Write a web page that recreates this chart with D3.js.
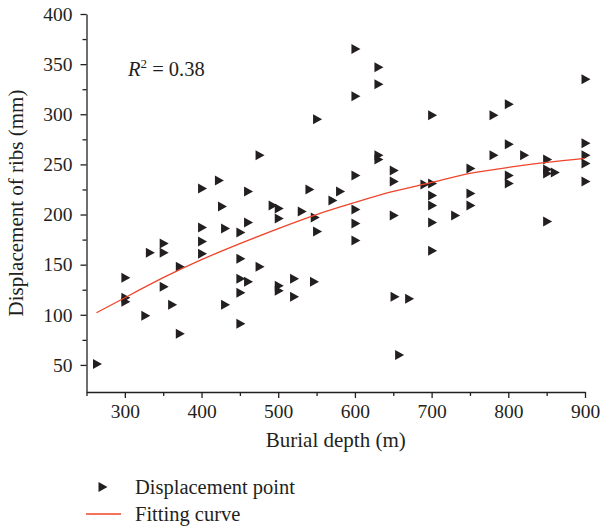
<!DOCTYPE html>
<html>
<head>
<meta charset="utf-8">
<script src="https://cdn.jsdelivr.net/npm/d3@7/dist/d3.min.js"></script>
<style>
  html, body { margin: 0; padding: 0; background: #fff; }
  svg text { font-family: "Liberation Serif", "Times New Roman", serif; fill: #231f20; }
</style>
</head>
<body>
<svg id="chart" width="601" height="527"></svg>
<script>
// Measured burial depth (m) and rib displacement (mm) for each monitoring point
const depths = [
  263, 300, 300, 300, 326, 332, 350, 350, 350, 361, 371, 371,
  400, 422, 400, 400, 400, 426, 430, 430,
  450, 450, 450, 450, 450, 460, 460, 460, 475, 475,
  492, 500, 500, 500, 500, 520, 520, 530, 540, 547, 550, 546, 550, 570, 580,
  600, 600, 600, 600, 600, 600, 630, 630, 630, 630,
  650, 650, 650, 651, 657, 670, 690,
  700, 700, 700, 700, 700, 700, 730, 750, 750, 750,
  780, 780, 800, 800, 800, 800, 820,
  850, 850, 850, 860, 850, 900, 900, 900, 900, 900
];
const displacements = [
  51, 137, 117, 113, 99, 162, 171, 162, 128, 110, 148, 81,
  226, 234, 187, 173, 161, 208, 186, 110,
  182, 156, 136, 122, 91, 223, 192, 133, 259, 148,
  209, 206, 196, 129, 124, 136, 118, 203, 225, 197, 183, 133, 295, 214, 223,
  365, 318, 239, 205, 191, 174, 347, 330, 259, 255,
  244, 233, 199, 118, 60, 116, 230,
  231, 219, 209, 192, 164, 299, 199, 246, 221, 209,
  299, 259, 310, 270, 239, 231, 259,
  255, 245, 241, 242, 193, 335, 271, 259, 251, 233
];

// Fitted trend (second-order), read at regular depths
const fitDepths = [263, 300, 350, 400, 450, 500, 550, 600, 650, 700, 750, 800, 850, 900];
const fitValues = [102, 117, 137, 155, 171, 186, 200, 212, 223, 232, 241, 247, 252, 256];

const xTicks = [300, 400, 500, 600, 700, 800, 900];
const yTicks = [50, 100, 150, 200, 250, 300, 350, 400];
const rSquared = "0.38";

const svg = d3.select("#chart");
const ink = "#231f20";
const red = "#f0452a";

const x = d3.scaleLinear().domain([250, 900]).range([86.5, 585]);
const y = d3.scaleLinear().domain([23, 400]).range([392, 14]);

// Axes: major ticks labelled, unlabelled minor ticks between them
const xMinor = d3.range(250, 901, 50).filter(v => !xTicks.includes(v));
const yMinor = d3.range(75, 400, 50);

const gx = svg.append("g").attr("transform", `translate(0,${y(23)})`);
gx.call(d3.axisBottom(x).tickValues(xTicks).tickSize(6).tickSizeOuter(0).tickPadding(6));
gx.append("g").call(d3.axisBottom(x).tickValues(xMinor).tickSize(4).tickFormat(""))
  .select(".domain").remove();

const gy = svg.append("g").attr("transform", `translate(${x(250)},0)`);
gy.call(d3.axisLeft(y).tickValues(yTicks).tickSize(6).tickSizeOuter(0).tickPadding(8));
gy.append("g").call(d3.axisLeft(y).tickValues(yMinor).tickSize(4).tickFormat(""))
  .select(".domain").remove();

svg.selectAll(".domain, .tick line").attr("stroke", ink).attr("stroke-width", 1.3);
svg.selectAll(".tick text").attr("font-size", 19.5).attr("font-family", null).attr("fill", ink);

// Axis titles
svg.append("text")
  .attr("x", (x(250) + x(900)) / 2).attr("y", 447)
  .attr("text-anchor", "middle").attr("font-size", 21)
  .text("Burial depth (m)");

svg.append("text")
  .attr("transform", `translate(23,${(y(23) + y(400)) / 2}) rotate(-90)`)
  .attr("text-anchor", "middle").attr("font-size", 21)
  .text("Displacement of ribs (mm)");

// Triangle marker pointing right
const tri = "M-3.5,-5L5.5,0L-3.5,5Z";

// Scatter points
svg.append("g").selectAll("path")
  .data(depths.map((d, i) => [d, displacements[i]]))
  .join("path")
  .attr("d", tri)
  .attr("transform", d => `translate(${x(d[0])},${y(d[1])})`)
  .attr("fill", ink);

// Fitting curve
const line = d3.line().x(d => x(d[0])).y(d => y(d[1])).curve(d3.curveNatural);
svg.append("path")
  .datum(fitDepths.map((d, i) => [d, fitValues[i]]))
  .attr("d", line)
  .attr("fill", "none")
  .attr("stroke", red)
  .attr("stroke-width", 1.3);

// Goodness of fit
const r2 = svg.append("text").attr("x", 128).attr("y", 76).attr("font-size", 20.5);
r2.append("tspan").attr("font-style", "italic").text("R");
r2.append("tspan").attr("dy", -8).attr("font-size", 13).text("2");
r2.append("tspan").attr("dy", 8).text(" = " + rSquared);

// Legend
const legend = svg.append("g");
legend.append("path").attr("d", tri).attr("transform", "translate(102,487)").attr("fill", ink);
legend.append("text").attr("x", 135).attr("y", 494).attr("font-size", 20.5).text("Displacement point");
legend.append("line").attr("x1", 86).attr("x2", 121).attr("y1", 514).attr("y2", 514)
  .attr("stroke", red).attr("stroke-width", 1.3);
legend.append("text").attr("x", 135).attr("y", 521).attr("font-size", 20.5).text("Fitting curve");
</script>
</body>
</html>
